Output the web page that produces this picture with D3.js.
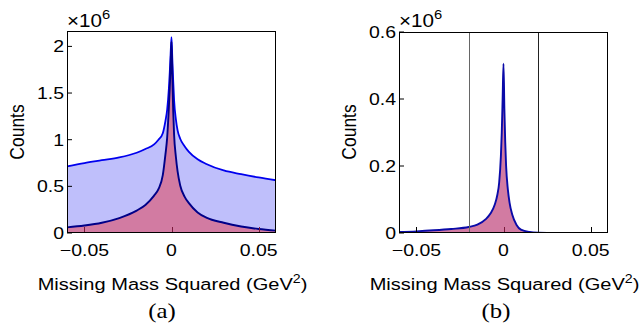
<!DOCTYPE html>
<html><head><meta charset="utf-8">
<script src="https://cdn.jsdelivr.net/npm/d3@7"></script>
<style>body{margin:0;background:#fff}svg{display:block}</style>
</head><body>
<svg id="c" width="642" height="328"></svg>
<script>
// ---- data (counts in units of 1e6) ----
const massSq = [-0.06,-0.05,-0.04,-0.03,-0.02,-0.015,-0.01,-0.0075,-0.005,-0.0035,-0.0025,-0.0015,-0.001,-0.0005,0,0.0005,0.001,0.0015,0.0025,0.0035,0.005,0.0075,0.01,0.015,0.02,0.03,0.04,0.05,0.06];
const allEvents = [0.714,0.75,0.78,0.81,0.86,0.90,0.95,1.00,1.07,1.20,1.32,1.55,1.72,1.92,2.10,1.85,1.62,1.42,1.22,1.10,1.01,0.93,0.87,0.79,0.74,0.67,0.63,0.595,0.565];
const selEvents = [0.06,0.08,0.11,0.16,0.24,0.30,0.40,0.47,0.62,0.84,1.02,1.35,1.55,1.80,2.05,1.65,1.30,1.05,0.82,0.66,0.51,0.39,0.32,0.22,0.165,0.11,0.07,0.043,0.025];
const cutEvents = [0.003,0.005,0.008,0.012,0.018,0.025,0.042,0.058,0.085,0.115,0.15,0.23,0.30,0.40,0.505,0.37,0.27,0.20,0.13,0.09,0.055,0.024,0.01,0.003,0.001,0,0,0,0];
const cutEdges = [-0.02, 0.02];
const xTicks = [-0.05, 0, 0.05];
const xTickLabels = ["\u22120.05","0","0.05"];
const yTicksA = [0,0.5,1,1.5,2];
const yTickLabelsA = ["0","0.5","1","1.5","2"];
const yTicksB = [0,0.2,0.4,0.6];
const yTickLabelsB = ["0","0.2","0.4","0.6"];
const panelLabels = ["(a)","(b)"];

const svg = d3.select("#c");
const SANS = "'Liberation Sans', Arial, sans-serif";
const SX = 1.18;

function stretchedText(x, y, txt, size, anchor, rotate, family) {
  const g = svg.append("g").attr("transform", `translate(${x},${y}) scale(${SX},1)` + (rotate ? ` rotate(${rotate})` : ""));
  const t = g.append("text").attr("font-family", family || SANS).attr("font-size", size)
    .attr("text-anchor", anchor).attr("fill", "#000");
  return t.text(txt);
}

function panel(opts) {
  const {x0, x1, y0, y1, yMax, yTicks, yLabels, outer, inner, cuts, id, label, labelX} = opts;
  const x = d3.scaleLinear().domain([-0.06, 0.06]).range([x0, x1]);
  const y = d3.scaleLinear().domain([0, yMax]).range([y1, y0]);
  svg.append("clipPath").attr("id", id).append("rect")
    .attr("x", x0).attr("y", y0).attr("width", x1 - x0).attr("height", y1 - y0);
  const g = svg.append("g").attr("clip-path", `url(#${id})`);
  svg.append("g").selectAll("line").data(yTicks).join("line")
    .attr("x1", x0).attr("x2", x0 + 5).attr("y1", d => y(d)).attr("y2", d => y(d))
    .attr("stroke", "#000").attr("stroke-width", 1);
  const area = vals => d3.area().x((d, i) => x(massSq[i])).y0(y(0)).y1(d => y(d)).curve(d3.curveMonotoneX)(vals);
  const line = vals => d3.line().x((d, i) => x(massSq[i])).y(d => y(d)).curve(d3.curveMonotoneX)(vals);
  if (outer) g.append("path").attr("d", area(outer)).attr("fill", "#bfbffb");
  g.append("path").attr("d", area(inner)).attr("fill", "#d27ba2");
  if (outer) g.append("path").attr("d", line(outer)).attr("fill", "none").attr("stroke", "#0000ee").attr("stroke-width", 1.8);
  g.append("path").attr("d", line(inner)).attr("fill", "none").attr("stroke", outer ? "#000088" : "#0a0aa8").attr("stroke-width", 1.9);
  if (cuts) {
    g.selectAll("line.cut").data(cuts).join("line").attr("class", "cut")
      .attr("x1", d => Math.round(x(d)) + 0.5).attr("x2", d => Math.round(x(d)) + 0.5)
      .attr("y1", y0).attr("y2", y1)
      .attr("stroke", (d, i) => i === 0 ? "#666" : "#222").attr("stroke-width", 1);
  }
  svg.append("g").selectAll("line").data(xTicks).join("line")
    .attr("x1", d => Math.round(x(d)) + 0.5).attr("x2", d => Math.round(x(d)) + 0.5)
    .attr("y1", y1).attr("y2", y1 - 6)
    .attr("stroke", d => {
      const i = massSq.indexOf(d);
      return (i >= 0 && inner[i] > 0.01) ? "#7a1a3c" : "#000";
    }).attr("stroke-width", 1);
  svg.append("rect").attr("x", x0 + 0.5).attr("y", y0 + 0.5).attr("width", x1 - x0 - 1).attr("height", y1 - y0 - 1)
    .attr("fill", "none").attr("stroke", "#000").attr("stroke-width", 1);
  xTicks.forEach((d, i) => stretchedText(x(d), 256, xTickLabels[i], 16.5, "middle"));
  yTicks.forEach((d, i) => stretchedText(x0 - 3, y(d) + 6, yLabels[i], 16.5, "end"));
  const m = stretchedText(x0, 27, "\u00d710", 17.5, "start");
  m.append("tspan").attr("font-size", 12.5).attr("dy", -8).text("6");
  const t = stretchedText((x0 + x1) / 2 + 1, 290, "Missing Mass Squared (GeV", 17, "middle");
  t.append("tspan").attr("font-size", 12).attr("dy", -7).text("2");
  t.append("tspan").attr("dy", 7).text(")");
  stretchedText(x0 - 43, 132, "Counts", 17.5, "middle", -90);
  stretchedText(labelX, 318, label, 21, "middle", 0, "'Liberation Serif', 'Times New Roman', serif");
}

panel({x0: 67, x1: 276, y0: 31, y1: 233, yMax: 2.165, yTicks: yTicksA, yLabels: yTickLabelsA,
  outer: allEvents, inner: selEvents, cuts: null, id: "ca", label: panelLabels[0], labelX: 162});
panel({x0: 399, x1: 608, y0: 32, y1: 233, yMax: 0.6, yTicks: yTicksB, yLabels: yTickLabelsB,
  outer: null, inner: cutEvents, cuts: cutEdges, id: "cb", label: panelLabels[1], labelX: 496});
</script>
</body></html>
